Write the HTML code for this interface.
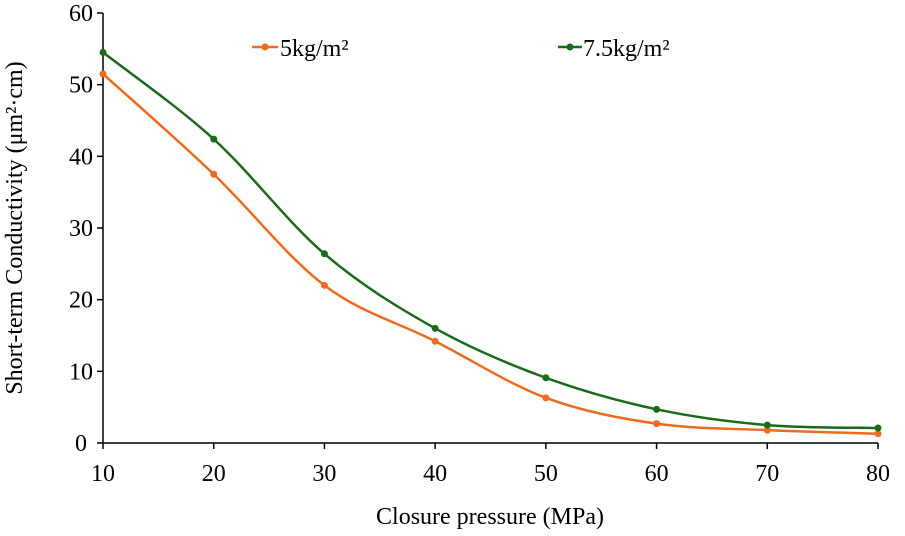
<!DOCTYPE html>
<html><head><meta charset="utf-8"><style>
body{margin:0;background:#fff;}
svg text{font-family:"Liberation Serif",serif;fill:#000;}
</style></head><body>
<svg id="chart" width="905" height="531">
<g id="axes"></g><g id="series"></g>
<g>
 <g>
  <line x1="252" y1="47" x2="278" y2="47" stroke="#ee6a1e" stroke-width="2.5"/>
  <circle cx="265" cy="47" r="3.5" fill="#ee6a1e"/>
  <text x="280" y="56" font-size="24">5kg/m²</text>
 </g>
 <g>
  <line x1="558" y1="47" x2="582" y2="47" stroke="#1a6a1a" stroke-width="2.5"/>
  <circle cx="570" cy="47" r="3.5" fill="#1a6a1a"/>
  <text x="583" y="56" font-size="24">7.5kg/m²</text>
 </g>
</g>
<text x="490" y="524" font-size="24" text-anchor="middle">Closure pressure (MPa)</text>
<text transform="translate(22,228) rotate(-90)" font-size="24" text-anchor="middle">Short-term Conductivity (μm²·cm)</text>
</svg>
<script>
const categories=[10,20,30,40,50,60,70,80];
const series5=[51.5,37.5,22,14.2,6.3,2.7,1.8,1.3];
const series75=[54.5,42.4,26.4,16,9.1,4.7,2.5,2.1];
const yTicks=[0,10,20,30,40,50,60];
const NS="http://www.w3.org/2000/svg";
const X=v=>103+(v-10)*(878-103)/70;
const Y=v=>443-v*(443-13)/60;
function mk(t,a,p){const e=document.createElementNS(NS,t);for(const k in a)e.setAttribute(k,a[k]);p.appendChild(e);return e;}
const ax=document.getElementById('axes');
const ya=mk('line',{x1:103,y1:13,x2:103,y2:443,stroke:'#000','stroke-width':1.5},ax);


const xa=mk('line',{x1:103,y1:443,x2:878,y2:443,stroke:'#000','stroke-width':1.5},ax);


yTicks.forEach(t=>{
 mk('line',{x1:97,y1:Y(t),x2:103,y2:Y(t),stroke:'#000','stroke-width':1.5},ax);
 const tx=mk('text',{x:81,y:Y(t)+8,'font-size':24,'text-anchor':'middle'},ax);tx.textContent=t;
 
 
});
categories.forEach(c=>{
 mk('line',{x1:X(c),y1:443,x2:X(c),y2:449,stroke:'#000','stroke-width':1.5},ax);
 const tx=mk('text',{x:X(c),y:481,'font-size':24,'text-anchor':'middle'},ax);tx.textContent=c;
 
 
});
function path(vals){
 const p=vals.map((v,i)=>[X(categories[i]),Y(v)]);
 let d=`M${p[0][0]},${p[0][1]}`;
 for(let i=0;i<p.length-1;i++){
  const p0=p[i-1]||p[i],p1=p[i],p2=p[i+1],p3=p[i+2]||p2,k=6;
  d+=` C${p1[0]+(p2[0]-p0[0])/k},${p1[1]+(p2[1]-p0[1])/k} ${p2[0]-(p3[0]-p1[0])/k},${p2[1]-(p3[1]-p1[1])/k} ${p2[0]},${p2[1]}`;
 }
 return d;
}
const sg=document.getElementById('series');
[[series5,'#ee6a1e','series-5kg'],[series75,'#1a6a1a','series-7-5kg']].forEach(([vals,col,name])=>{
 const g=mk('g',{},sg);
 
 
 mk('path',{d:path(vals),fill:'none',stroke:col,'stroke-width':2.5},g);
 vals.forEach((v,i)=>{
  const c=mk('circle',{cx:X(categories[i]),cy:Y(v),r:3.5,fill:col},g);
  
  
 });
});
</script>
</body></html>
